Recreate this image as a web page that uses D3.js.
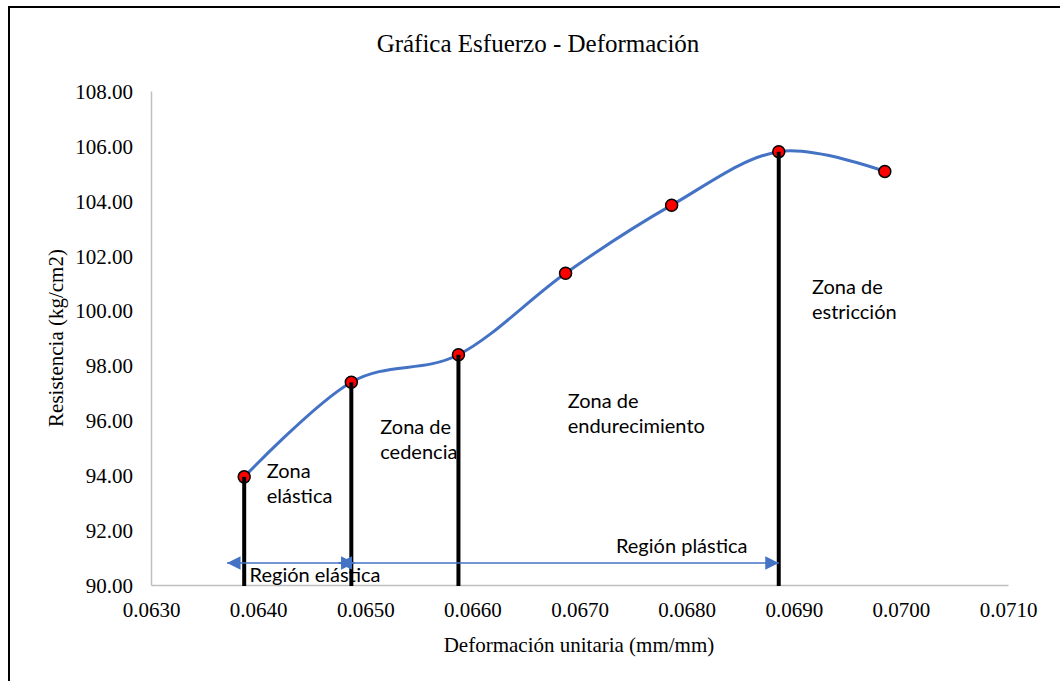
<!DOCTYPE html>
<html>
<head>
<meta charset="utf-8">
<script src="https://cdn.jsdelivr.net/npm/d3@7"></script>
<style>
  body { margin: 0; background: #fff; }
  .serif { font-family: "Liberation Serif", "Times New Roman", serif; fill: #000; }
  .note { font-family: Lato, "Open Sans", sans-serif; fill: #000; font-size: 20px; }
</style>
</head>
<body>
<div id="chart"></div>
<script>
// Data
var strain = [0.06387, 0.06487, 0.06587, 0.06687, 0.06786, 0.06886, 0.06985];
var stress = [93.94, 97.39, 98.39, 101.36, 103.84, 105.79, 105.07];
var dropIdx = [0, 1, 2, 5];   // points that get a black drop line
var xTicks = [0.0630, 0.0640, 0.0650, 0.0660, 0.0670, 0.0680, 0.0690, 0.0700, 0.0710];
var yTicks = [90, 92, 94, 96, 98, 100, 102, 104, 106, 108];

// arrows: [x start, x end, y]
var arrows = [
    [0.06371, 0.06490, 90.8],
    [0.06475, 0.06886, 90.8]
];

// annotation labels: x, y (baseline), lines
var notes = [
    [0.06408, 93.90, ["Zona", "elástica"]],
    [0.06514, 95.50, ["Zona de", "cedencia"]],
    [0.06689, 96.46, ["Zona de", "endurecimiento"]],
    [0.06917, 100.60, ["Zona de", "estricción"]],
    [0.06734, 91.18, ["Región plástica"]],
    [0.06392, 90.11, ["Región elástica"]]
];

var svgWidth = 1060;
var svgHeight = 681;
var margin = { top: 91, right: 52, bottom: 96, left: 151 };
var width = svgWidth - margin.left - margin.right;
var height = svgHeight - margin.top - margin.bottom;

var svg = d3.select("#chart")
    .append("svg")
    .attr("width", svgWidth)
    .attr("height", svgHeight);

// outer frame
svg.append("rect")
    .attr("x", 9).attr("y", 7)
    .attr("width", 1070).attr("height", 700)
    .attr("fill", "none")
    .attr("stroke", "#000")
    .attr("stroke-width", 2);

var chartGroup = svg.append("g")
    .attr("transform", `translate(${margin.left}, ${margin.top})`);

var x = d3.scaleLinear().domain([0.0630, 0.0710]).range([0, width]);
var y = d3.scaleLinear().domain([90, 108]).range([height, 0]);

// axes
var bottomAxis = d3.axisBottom(x).tickValues(xTicks).tickFormat(d3.format(".4f")).tickSize(0).tickPadding(17);
var leftAxis = d3.axisLeft(y).tickValues(yTicks).tickFormat(d3.format(".2f")).tickSize(0).tickPadding(18);

var gx = chartGroup.append("g")
    .attr("transform", `translate(0, ${height})`)
    .call(bottomAxis);
var gy = chartGroup.append("g").call(leftAxis);

[gx, gy].forEach(function(g) {
    g.select(".domain").attr("stroke", "#bfbfbf").attr("stroke-width", 1.5);
    g.selectAll("text")
        .attr("class", "serif")
        .style("font-size", "21px")
        .attr("fill", "#000");
});
gx.selectAll("text").attr("dy", "0.71em");
gy.selectAll("text").attr("dy", "0.35em");

// smooth line
var data = strain.map(function(s, i) { return { x: s, y: stress[i] }; });
var line = d3.line()
    .x(d => x(d.x))
    .y(d => y(d.y))
    .curve(d3.curveCardinal.tension(0));

chartGroup.append("path")
    .datum(data)
    .attr("d", line)
    .attr("fill", "none")
    .attr("stroke", "#4472c4")
    .attr("stroke-width", 3);

// markers
chartGroup.selectAll("circle")
    .data(data)
    .enter()
    .append("circle")
    .attr("cx", d => x(d.x))
    .attr("cy", d => y(d.y))
    .attr("r", 6)
    .attr("fill", "#ff0000")
    .attr("stroke", "#000")
    .attr("stroke-width", 1.5);

// drop lines
chartGroup.selectAll(".drop")
    .data(dropIdx.map(i => data[i]))
    .enter()
    .append("line")
    .attr("class", "drop")
    .attr("x1", d => x(d.x)).attr("x2", d => x(d.x))
    .attr("y1", d => y(d.y)).attr("y2", height + 1)
    .attr("stroke", "#000")
    .attr("stroke-width", 4);

// arrows
var defs = svg.append("defs");
defs.append("marker")
    .attr("id", "head")
    .attr("viewBox", "0 0 10 10")
    .attr("refX", 10).attr("refY", 5)
    .attr("markerWidth", 9).attr("markerHeight", 9)
    .attr("markerUnits", "strokeWidth")
    .attr("orient", "auto-start-reverse")
    .append("path")
    .attr("d", "M0,0 L10,5 L0,10 Z")
    .attr("fill", "#4472c4");

chartGroup.selectAll(".arrow")
    .data(arrows)
    .enter()
    .append("line")
    .attr("class", "arrow")
    .attr("x1", d => x(d[0])).attr("x2", d => x(d[1]))
    .attr("y1", d => y(d[2])).attr("y2", d => y(d[2]))
    .attr("stroke", "#4472c4")
    .attr("stroke-width", 1.5)
    .attr("marker-start", "url(#head)")
    .attr("marker-end", "url(#head)");

// annotations
notes.forEach(function(n) {
    var t = chartGroup.append("text")
        .attr("class", "note")
        .attr("x", x(n[0]))
        .attr("y", y(n[1]));
    n[2].forEach(function(s, i) {
        t.append("tspan")
            .attr("x", x(n[0]))
            .attr("dy", i === 0 ? 0 : 25)
            .text(s);
    });
});

// title
svg.append("text")
    .attr("class", "serif")
    .attr("x", 538).attr("y", 52)
    .attr("text-anchor", "middle")
    .style("font-size", "25px")
    .text("Gráfica Esfuerzo - Deformación");

// axis titles
svg.append("text")
    .attr("class", "serif")
    .attr("x", 579).attr("y", 652)
    .attr("text-anchor", "middle")
    .style("font-size", "21px")
    .text("Deformación unitaria (mm/mm)");

svg.append("text")
    .attr("class", "serif")
    .attr("transform", "translate(63, 338) rotate(-90)")
    .attr("text-anchor", "middle")
    .style("font-size", "21px")
    .text("Resistencia (kg/cm2)");
</script>
</body>
</html>
